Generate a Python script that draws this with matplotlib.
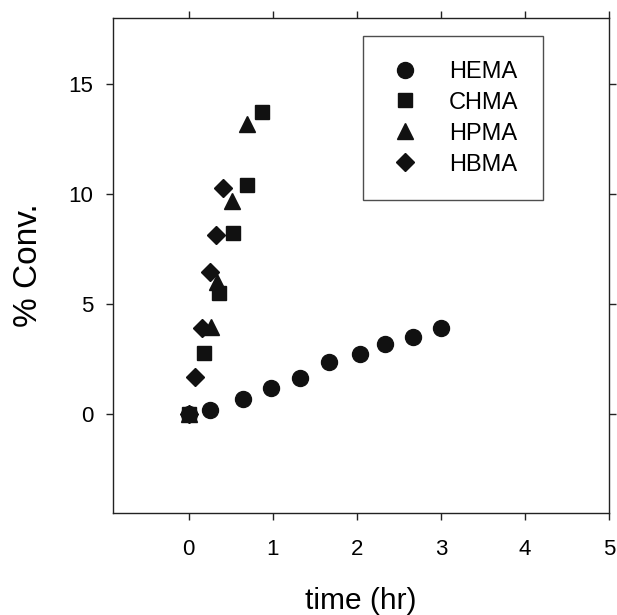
import matplotlib.pyplot as plt

plt.rcParams["font.family"] = ["Liberation Sans", "DejaVu Sans"]

# conversion vs time, one series per monomer
hema_t = [0.0, 0.25, 0.65, 0.98, 1.32, 1.67, 2.04, 2.34, 2.67, 3.0]
hema_c = [0.0, 0.2, 0.68, 1.17, 1.65, 2.35, 2.73, 3.2, 3.5, 3.9]

chma_t = [0.0, 0.18, 0.36, 0.53, 0.70, 0.87]
chma_c = [0.0, 2.77, 5.5, 8.23, 10.4, 13.74]

hpma_t = [0.0, 0.27, 0.34, 0.51, 0.70]
hpma_c = [0.0, 3.95, 6.0, 9.7, 13.2]

hbma_t = [0.0, 0.08, 0.155, 0.25, 0.33, 0.41]
hbma_c = [0.0, 1.7, 3.9, 6.45, 8.15, 10.27]

xticks = [0, 1, 2, 3, 4, 5]
yticks = [0, 5, 10, 15]

fig = plt.figure(figsize=(6.17, 6.15), dpi=100)
ax = fig.add_axes([0.1831, 0.1659, 0.8039, 0.8049])

mk = dict(linestyle="none", color="#111111")
ax.plot(hema_t, hema_c, marker="o", markersize=11.5, label="HEMA", **mk)
ax.plot(chma_t, chma_c, marker="s", markersize=10.5, label="CHMA", **mk)
ax.plot(hpma_t, hpma_c, marker="^", markersize=12, label="HPMA", **mk)
ax.plot(hbma_t, hbma_c, marker="D", markersize=9.5, label="HBMA", **mk)

ax.set_xlim(-0.9, 5)
ax.set_ylim(-4.5, 18)
ax.set_xticks(xticks)
ax.set_yticks(yticks)
ax.tick_params(direction="out", length=5, width=1, colors="#222222",
               labelcolor="black", labelsize=16, top=True, right=True,
               labeltop=False, labelright=False)
ax.tick_params(axis="x", pad=14)
ax.tick_params(axis="y", pad=9)
for sp in ax.spines.values():
    sp.set_color("#222222")
    sp.set_linewidth(1)

ax.set_xlabel("time (hr)", fontsize=21.5, labelpad=19)
ax.set_ylabel("% Conv.", fontsize=24, labelpad=18)

leg = ax.legend(loc="upper right", bbox_to_anchor=(0.867, 0.9636),
                borderaxespad=0, fontsize=17, frameon=True, fancybox=False,
                edgecolor="#222222", borderpad=1.05, handletextpad=1.1,
                labelspacing=0.38, handlelength=1.5)
leg.get_frame().set_linewidth(1)

fig.savefig("out.png", dpi=100)
